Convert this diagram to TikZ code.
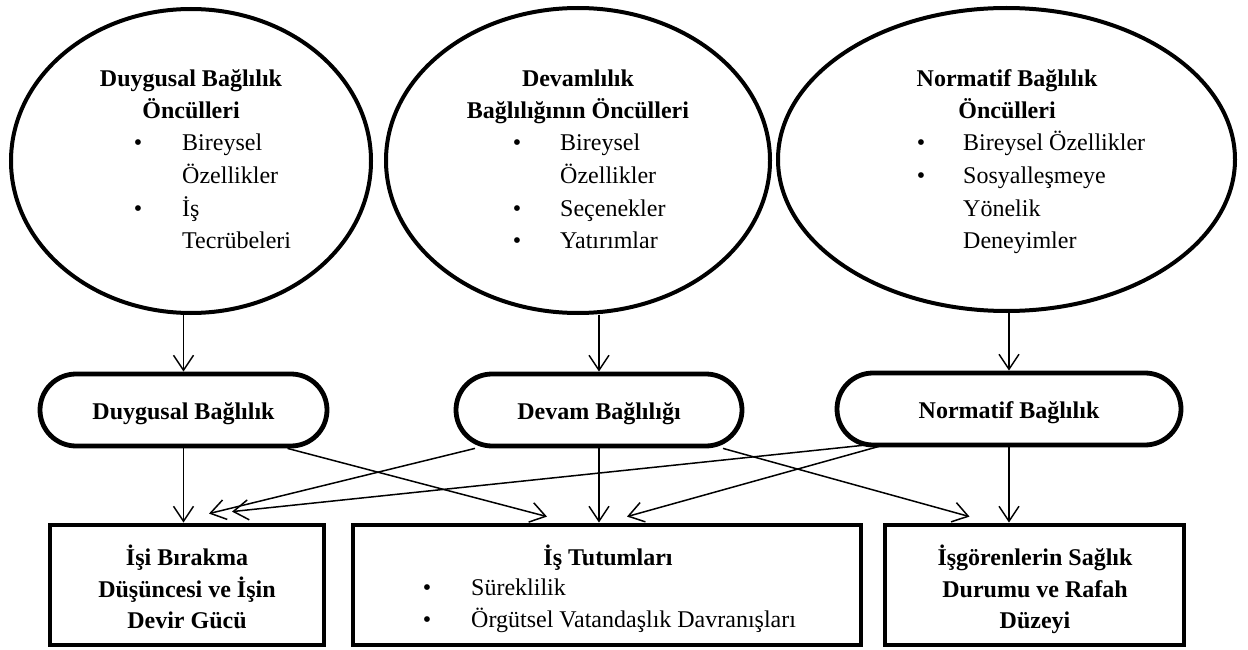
\documentclass[tikz,border=0pt]{standalone}
\usepackage{fontspec}
\setmainfont{Liberation Serif}
\usetikzlibrary{shapes.geometric,shapes.misc,arrows.meta,calc}
\begin{document}
\begin{tikzpicture}[x=1pt,y=-1pt,
  every node/.style={font=\fontsize{24}{32}\selectfont},
  ell/.style={draw, ellipse, line width=4pt, inner sep=0pt},
  rbox/.style={draw, rounded rectangle, line width=4.8pt, minimum height=72pt, inner sep=0pt, text height=22pt, text depth=4pt, font=\fontsize{24}{32}\selectfont\bfseries},
  obox/.style={draw, rectangle, line width=4.8pt, minimum height=120pt, inner sep=0pt},
  txt/.style={inner sep=0pt, font=\fontsize{24}{32}\selectfont},
  ttl/.style={inner sep=0pt, font=\fontsize{24}{32}\selectfont\bfseries},
  conn/.style={line width=1.5pt, -{Straight Barb[length=15pt,width=20pt]}}]
\useasboundingbox (0,0) rectangle (1248,650);

% top ellipses
\node[ell, minimum width=360pt, minimum height=304pt] (e1) at (191,161) {};
\node[ell, minimum width=384pt, minimum height=305pt] (e2) at (578,160.5) {};
\node[ell, minimum width=457pt, minimum height=303pt] (e3) at (1006.5,159.5) {};

% ellipse 1 text
\node[ttl, anchor=base] (e1a) at (191,87) {Duygusal Bağlılık};
\node[ttl, anchor=base] (e1b) at (191,119) {Öncülleri};
\node[txt, anchor=base] (e1p1) at (138,151) {•};
\node[txt, anchor=base west] (e1l1) at (182,151) {Bireysel};
\node[txt, anchor=base west] (e1l2) at (182,183) {Özellikler};
\node[txt, anchor=base] (e1p2) at (138,216) {•};
\node[txt, anchor=base west] (e1l3) at (182,216) {İş};
\node[txt, anchor=base west] (e1l4) at (182,248) {Tecrübeleri};

% ellipse 2 text
\node[ttl, anchor=base] (e2a) at (578,87) {Devamlılık};
\node[ttl, anchor=base] (e2b) at (578,119) {Bağlılığının Öncülleri};
\node[txt, anchor=base] (e2p1) at (517,151) {•};
\node[txt, anchor=base west] (e2l1) at (560,151) {Bireysel};
\node[txt, anchor=base west] (e2l2) at (560,183) {Özellikler};
\node[txt, anchor=base] (e2p2) at (517,216) {•};
\node[txt, anchor=base west] (e2l3) at (560,216) {Seçenekler};
\node[txt, anchor=base] (e2p3) at (517,248) {•};
\node[txt, anchor=base west] (e2l4) at (560,248) {Yatırımlar};

% ellipse 3 text
\node[ttl, anchor=base] (e3a) at (1007,87) {Normatif Bağlılık};
\node[ttl, anchor=base] (e3b) at (1007,119) {Öncülleri};
\node[txt, anchor=base] (e3p1) at (921,151) {•};
\node[txt, anchor=base west] (e3l1) at (963,151) {Bireysel Özellikler};
\node[txt, anchor=base] (e3p2) at (921,183) {•};
\node[txt, anchor=base west] (e3l2) at (963,183) {Sosyalleşmeye};
\node[txt, anchor=base west] (e3l3) at (963,216) {Yönelik};
\node[txt, anchor=base west] (e3l4) at (963,248) {Deneyimler};

% middle rounded boxes
\node[rbox, minimum width=287pt] (d1) at (183.5,410) {Duygusal Bağlılık};
\node[rbox, minimum width=286pt] (d2) at (599,410) {Devam Bağlılığı};
\node[rbox, minimum width=344pt] (d3) at (1009,409) {Normatif Bağlılık};

% bottom boxes
\node[obox, minimum width=274pt] (bA) at (187,585) {};
\node[obox, minimum width=508pt] (bB) at (607,585) {};
\node[obox, minimum width=299pt] (bC) at (1034.5,585) {};

\node[ttl, anchor=base] (bA1) at (187,565) {İşi Bırakma};
\node[ttl, anchor=base] (bA2) at (187,597) {Düşüncesi ve İşin};
\node[ttl, anchor=base] (bA3) at (187,628) {Devir Gücü};

\node[ttl, anchor=base] (bB1) at (608,565) {İş Tutumları};
\node[txt, anchor=base] (bBp1) at (427,595) {•};
\node[txt, anchor=base west] (bB2) at (471,595) {Süreklilik};
\node[txt, anchor=base] (bBp2) at (427,627) {•};
\node[txt, anchor=base west] (bB3) at (471,627) {Örgütsel Vatandaşlık Davranışları};

\node[ttl, anchor=base] (bC1) at (1035,565) {İşgörenlerin Sağlık};
\node[ttl, anchor=base] (bC2) at (1035,597) {Durumu ve Rafah};
\node[ttl, anchor=base] (bC3) at (1035,628) {Düzeyi};

% connectors top
\draw[conn] (e1.south -| d1.north) -- (d1.north);
\draw[conn] (e2.south -| d2.north) -- (d2.north);
\draw[conn] (e3.south -| d3.north) -- (d3.north);

% vertical connectors bottom
\draw[conn] (d1.south) -- (d1.south |- bA.north);
\draw[conn] (d2.south) -- (d2.south |- bB.north);
\draw[conn] (d3.south) -- (d3.south |- bC.north);

% diagonal connectors
\draw[conn] ($(d2.south)+(-124,0)$) -- ($(bA.north)+(22,-9)$);
\draw[conn] ($(d3.south)+(-137,-3)$) -- ($(bA.north)+(45,-11)$);
\draw[conn] ($(d1.south)+(104,0)$) -- ($(bB.north)+(-60,-6)$);
\draw[conn] ($(d3.south)+(-130,-1)$) -- ($(bB.north)+(20,-6)$);
\draw[conn] ($(d2.south)+(124,0)$) -- ($(bC.north)+(-65,-6)$);
\end{tikzpicture}
\end{document}
